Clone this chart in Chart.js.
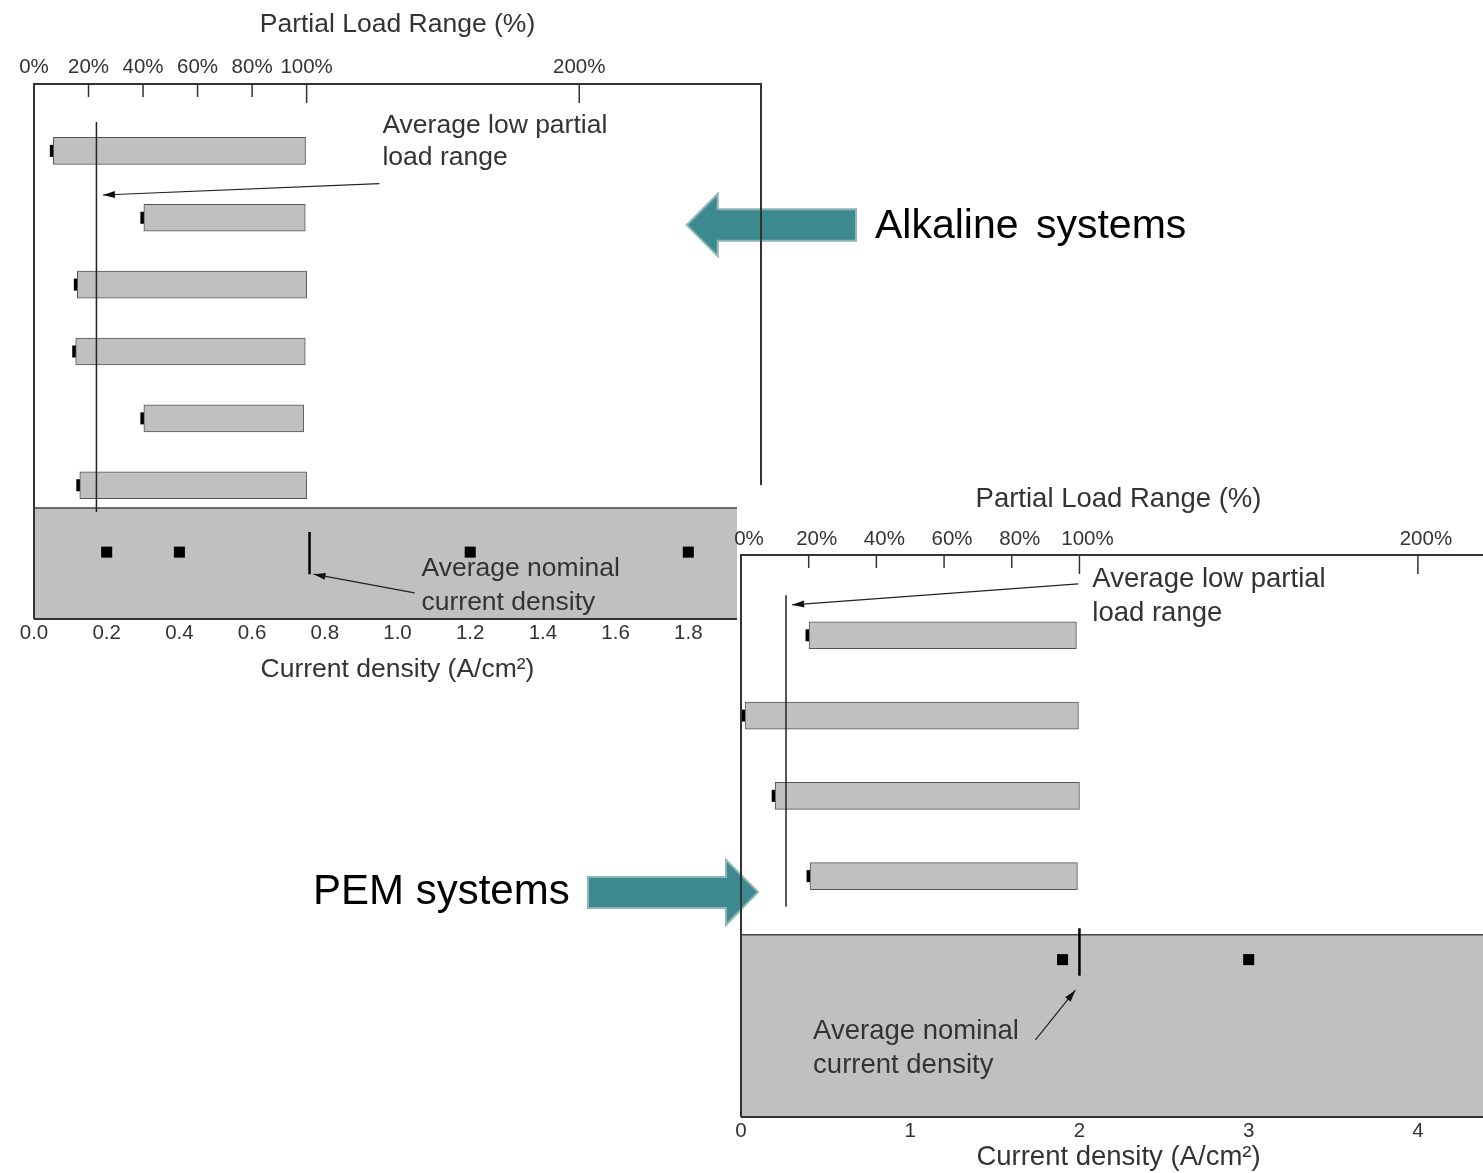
<!DOCTYPE html>
<html>
<head>
<meta charset="utf-8">
<script src="https://cdn.jsdelivr.net/npm/chart.js@4.4.0/dist/chart.umd.min.js"></script>
<style>
  body { margin: 0; background: #fff; font-family: "Liberation Sans", Arial, sans-serif; }
  #page { position: relative; width: 1483px; height: 1173px; overflow: hidden; background: #fff; }
  .layer { position: absolute; }
  #alkArrow { left: 0; top: 0; z-index: 1; }
  #alkChart { left: 0; top: 0; z-index: 2; }
  #pemBg { left: 737px; top: 485px; width: 746px; height: 688px; background: #fff; z-index: 3; }
  #pemArrow { left: 0; top: 0; z-index: 4; }
  #pemChart { left: 690px; top: 470px; z-index: 5; }
  .big { position: absolute; z-index: 6; font-size: 41px; line-height: 41px; color: #000; white-space: nowrap; }
</style>
</head>
<body>
<div id="page">
  <svg id="alkArrow" class="layer" width="1483" height="1173">
    <polygon points="686.7,225 717.7,194 717.7,209.3 856,209.3 856,240.7 717.7,240.7 717.7,256"
             fill="#3c8a8f" stroke="#8fb4b6" stroke-width="2"/>
  </svg>
  <canvas id="alkChart" class="layer" width="800" height="700"></canvas>
  <div id="pemBg" class="layer"></div>
  <svg id="pemArrow" class="layer" width="1483" height="1173">
    <polygon points="588,877 726,877 726,860 758,892 726,925 726,908 588,908"
             fill="#3c8a8f" stroke="#8fb4b6" stroke-width="2"/>
  </svg>
  <canvas id="pemChart" class="layer" width="819" height="703"></canvas>
  <div class="big" style="left:875px; top:204px; word-spacing:6px;">Alkaline systems</div>
  <div class="big" style="left:313px; top:869px; font-size:42px; line-height:42px;">PEM systems</div>
</div>

<script>
// ---- Alkaline systems ----
const alkRows = [1, 2, 3, 4, 5, 6];
const alkLow = [7.1, 40.3, 15.9, 15.3, 40.3, 16.8];      // % of nominal load
const alkHigh = [99.6, 99.5, 100, 99.5, 98.9, 100];
const alkNominal = [0.2, 0.4, 1.2, 1.8];                 // A/cm2
const alkAvgLow = 22.9;
const alkAvgNominal = 0.758;
const alkPctTicks = [0, 20, 40, 60, 80, 100, 200];
const alkCdTicks = [0, 0.2, 0.4, 0.6, 0.8, 1.0, 1.2, 1.4, 1.6, 1.8, 2.0];

// ---- PEM systems ----
const pemRows = [1, 2, 3, 4];
const pemLow = [20.1, 1.2, 10.1, 20.4];
const pemHigh = [99.1, 99.7, 100, 99.4];
const pemNominal = [1.9, 3.0];
const pemAvgLow = 13.3;
const pemAvgNominal = 2.0;
const pemPctTicks = [0, 20, 40, 60, 80, 100, 200];
const pemCdTicks = [0, 1, 2, 3, 4];

const FONT = '"Liberation Sans", Arial, sans-serif';
const TXT = '#333';

const panelPlugin = {
    id: 'panel',
    beforeDatasetsDraw(chart, args, o) {
        const {ctx, chartArea: a} = chart;
        const yb = chart.scales.y.getPixelForValue(o.bandTop);
        ctx.save();
        ctx.fillStyle = '#c0c0c0';
        ctx.fillRect(a.left, yb, a.right - a.left, a.bottom - yb);
        ctx.strokeStyle = '#444';
        ctx.lineWidth = 1.5;
        ctx.beginPath();
        ctx.moveTo(a.left, yb);
        ctx.lineTo(a.right, yb);
        ctx.stroke();
        ctx.restore();
    },
    afterDatasetsDraw(chart, args, o) {
        const {ctx, chartArea: a, scales} = chart;
        ctx.save();
        // frame
        ctx.strokeStyle = '#333';
        ctx.lineWidth = 2;
        ctx.beginPath();
        ctx.moveTo(a.left, a.bottom);
        ctx.lineTo(a.left, a.top);
        ctx.lineTo(a.right, a.top);
        if (o.rightBorder) ctx.lineTo(a.right, a.bottom);
        ctx.moveTo(a.left, a.bottom);
        ctx.lineTo(a.right, a.bottom);
        ctx.stroke();
        // inward tick marks of the top axis
        ctx.lineWidth = 1.5;
        scales.pct.ticks.forEach(t => {
            if (t.value === 0) return;
            const x = scales.pct.getPixelForValue(t.value);
            const len = t.value % 100 === 0 ? 19 : 13;
            ctx.beginPath();
            ctx.moveTo(x, a.top);
            ctx.lineTo(x, a.top + len);
            ctx.stroke();
        });
        // annotations
        o.notes.forEach(n => {
            const sx = scales[n.axis];
            ctx.fillStyle = TXT;
            ctx.font = n.size + 'px ' + FONT;
            ctx.textBaseline = 'middle';
            ctx.textAlign = 'left';
            n.lines.forEach((s, i) => {
                ctx.fillText(s, sx.getPixelForValue(n.x), scales.y.getPixelForValue(n.y[i]));
            });
            const x1 = sx.getPixelForValue(n.arrow[0]), y1 = scales.y.getPixelForValue(n.arrow[1]);
            const x2 = sx.getPixelForValue(n.arrow[2]), y2 = scales.y.getPixelForValue(n.arrow[3]);
            ctx.strokeStyle = '#222';
            ctx.lineWidth = 1.2;
            ctx.beginPath();
            ctx.moveTo(x1, y1);
            ctx.lineTo(x2, y2);
            ctx.stroke();
            const ang = Math.atan2(y2 - y1, x2 - x1);
            ctx.fillStyle = '#111';
            ctx.beginPath();
            ctx.moveTo(x2, y2);
            ctx.lineTo(x2 - 12 * Math.cos(ang) + 3.5 * Math.sin(ang), y2 - 12 * Math.sin(ang) - 3.5 * Math.cos(ang));
            ctx.lineTo(x2 - 12 * Math.cos(ang) - 3.5 * Math.sin(ang), y2 - 12 * Math.sin(ang) + 3.5 * Math.cos(ang));
            ctx.closePath();
            ctx.fill();
        });
        ctx.restore();
    }
};

function rangeChart(id, c) {
    const pctMax = c.cdMax / c.refCd * 100;
    const bars = c.rows.map((r, i) => ({x: [c.low[i], c.high[i]], y: r}));
    const caps = c.rows.map((r, i) => ({x: c.low[i], y: r}));
    const noms = c.nominal.map(v => ({x: v, y: c.nomRow}));
    const data = {
        datasets: [
            {
                type: 'bar', data: bars, xAxisID: 'pct', yAxisID: 'y', order: 2,
                backgroundColor: '#c0c0c0', borderColor: '#555', borderWidth: 1,
                borderSkipped: false, barThickness: c.barThickness
            },
            {
                type: 'scatter', data: caps, xAxisID: 'pct', yAxisID: 'y', order: 3, indexAxis: 'x',
                pointStyle: 'line', rotation: 90, pointRadius: 6, borderWidth: 7, borderColor: '#000'
            },
            {
                type: 'scatter', data: noms, xAxisID: 'cd', yAxisID: 'y', order: 1, indexAxis: 'x',
                pointStyle: 'rect', pointRadius: 7.8, backgroundColor: '#000', borderColor: '#000', borderWidth: 0
            },
            {
                type: 'scatter', data: [{x: c.avgLow, y: c.lowLine[0]}, {x: c.avgLow, y: c.lowLine[1]}],
                xAxisID: 'pct', yAxisID: 'y', order: 0, indexAxis: 'x', showLine: true,
                borderColor: '#222', borderWidth: 1.5, pointRadius: 0
            },
            {
                type: 'scatter', data: [{x: c.avgNominal, y: c.nomLine[0]}, {x: c.avgNominal, y: c.nomLine[1]}],
                xAxisID: 'cd', yAxisID: 'y', order: 0, indexAxis: 'x', showLine: true,
                borderColor: '#000', borderWidth: 2.5, pointRadius: 0
            }
        ]
    };
    const config = {
        type: 'bar',
        data: data,
        plugins: [panelPlugin],
        options: {
            responsive: false,
            animation: false,
            events: [],
            indexAxis: 'y',
            layout: {padding: c.padding},
            scales: {
                pct: {
                    type: 'linear', axis: 'x', position: 'top', min: 0, max: pctMax, offset: false,
                    afterBuildTicks: s => { s.ticks = c.pctTicks.map(v => ({value: v})); },
                    afterFit: s => { s.height = c.topHeight; },
                    grid: {display: false, drawTicks: false},
                    border: {display: false},
                    ticks: {
                        padding: c.topTickPad, color: TXT, labelOffset: c.topLabelOffset,
                        font: {family: FONT, size: 20.5, lineHeight: 1},
                        callback: v => v + '%'
                    },
                    title: {
                        display: true, text: 'Partial Load Range (%)', color: TXT,
                        font: {family: FONT, size: c.titleSize, lineHeight: 1},
                        padding: {top: c.topTitlePad, bottom: 0}
                    }
                },
                cd: {
                    type: 'linear', axis: 'x', position: 'bottom', min: 0, max: c.cdMax, offset: false,
                    afterBuildTicks: s => { s.ticks = c.cdTicks.map(v => ({value: v})); },
                    afterFit: s => { s.height = c.bottomHeight; },
                    grid: {display: false, drawTicks: false},
                    border: {display: false},
                    ticks: {
                        padding: c.bottomTickPad, color: TXT,
                        font: {family: FONT, size: 20.5, lineHeight: 1},
                        callback: c.cdFormat
                    },
                    title: {
                        display: true, text: 'Current density (A/cm²)', color: TXT,
                        font: {family: FONT, size: c.titleSize, lineHeight: 1},
                        padding: {top: 0, bottom: c.bottomTitlePad}
                    }
                },
                y: {type: 'linear', display: false, reverse: true, min: 0, max: c.yMax, offset: false}
            },
            plugins: {
                legend: {display: false},
                tooltip: {enabled: false},
                panel: {bandTop: c.bandTop, rightBorder: c.rightBorder, notes: c.notes}
            }
        }
    };
    let ctx = document.getElementById(id).getContext('2d');
    return new Chart(ctx, config);
}

rangeChart('alkChart', {
    rows: alkRows, low: alkLow, high: alkHigh, nominal: alkNominal,
    avgLow: alkAvgLow, avgNominal: alkAvgNominal,
    pctTicks: alkPctTicks, cdTicks: alkCdTicks, cdFormat: v => v.toFixed(1),
    refCd: 0.75, cdMax: 2.0, yMax: 8, nomRow: 7, bandTop: 6.34,
    lowLine: [0.57, 6.4], nomLine: [6.7, 7.33],
    barThickness: 27, rightBorder: true, titleSize: 26.5, topLabelOffset: 0,
    padding: {left: 34, right: 39, top: 0, bottom: 0},
    topHeight: 84, topTickPad: 6, topTitlePad: 11.5,
    bottomHeight: 81, bottomTickPad: 4, bottomTitlePad: 17,
    notes: [
        {axis: 'pct', size: 26.5, x: 127.8, y: [0.63, 1.1], lines: ['Average low partial', 'load range'],
         arrow: [126.7, 1.49, 25.3, 1.66]},
        {axis: 'cd', size: 26.5, x: 1.066, y: [7.25, 7.75], lines: ['Average nominal', 'current density'],
         arrow: [1.047, 7.61, 0.769, 7.33]}
    ]
});

rangeChart('pemChart', {
    rows: pemRows, low: pemLow, high: pemHigh, nominal: pemNominal,
    avgLow: pemAvgLow, avgNominal: pemAvgNominal,
    pctTicks: pemPctTicks, cdTicks: pemCdTicks, cdFormat: v => String(v),
    refCd: 2.0, cdMax: 4.4615, yMax: 7, nomRow: 5.04, bandTop: 4.73,
    lowLine: [0.5, 4.38], nomLine: [4.65, 5.24],
    barThickness: 27, rightBorder: false, titleSize: 27.5, topLabelOffset: 8,
    padding: {left: 51, right: 0, top: 0, bottom: 0},
    topHeight: 85, topTickPad: 5, topTitlePad: 16,
    bottomHeight: 56, bottomTickPad: 4, bottomTitlePad: 1.5,
    notes: [
        {axis: 'pct', size: 27.5, x: 103.8, y: [0.31, 0.73], lines: ['Average low partial', 'load range'],
         arrow: [99.7, 0.36, 15.1, 0.62]},
        {axis: 'cd', size: 27.5, x: 0.426, y: [5.94, 6.36], lines: ['Average nominal', 'current density'],
         arrow: [1.74, 6.04, 1.976, 5.42]}
    ]
});
</script>
</body>
</html>
